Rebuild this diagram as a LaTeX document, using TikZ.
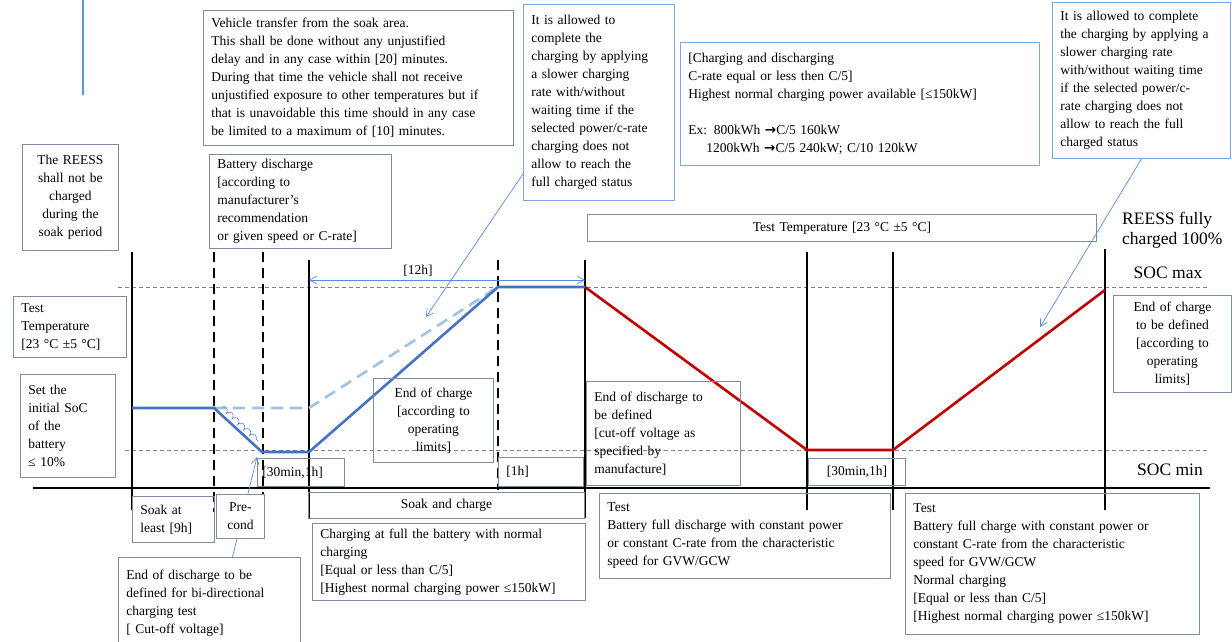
\documentclass[tikz,border=0pt]{standalone}
\usepackage{fontspec}
\setmainfont{Liberation Serif}
\newfontfamily\arrowfont{DejaVu Sans}
\usetikzlibrary{arrows.meta, positioning, decorations.pathmorphing}
\definecolor{boxgray}{HTML}{7F8C9D}
\definecolor{boxblue}{HTML}{7FA6DD}
\definecolor{socblue}{HTML}{4472C4}
\definecolor{soclight}{HTML}{9DC3E6}
\definecolor{socred}{HTML}{C00000}
\definecolor{noteblue}{HTML}{5B8BD9}
\definecolor{barblue}{HTML}{5B9BD5}
\newcommand{\thickarrow}{{\arrowfont\bfseries →}}

\begin{document}
\begin{tikzpicture}[x=1pt, y=-1pt, >={Straight Barb[length=7pt, width=8pt]}]
  \tikzstyle{gbox}=[draw=boxgray, line width=0.9pt, anchor=north west, inner xsep=8pt, inner ysep=3pt, align=left, font=\fontsize{13.5}{18}\selectfont]
  \tikzstyle{bbox}=[gbox, draw=boxblue]
  \tikzstyle{timeline}=[line width=2.6pt]
  \tikzstyle{vdash}=[line width=2.6pt, dash pattern=on 10pt off 6pt]
  \tikzstyle{soclevel}=[gray, line width=0.8pt, dash pattern=on 4pt off 3pt]
  \tikzstyle{note}=[->, noteblue, line width=0.7pt]
  \tikzstyle{big}=[font=\fontsize{17.5}{20}\selectfont, inner sep=0pt]
  \tikzstyle{profile}=[line width=2.6pt, line join=round]

  \useasboundingbox (0,0) rectangle (1232,642);

  % SOC levels and time axis
  \draw[soclevel] (118,287) -- (1210,287);
  \draw[soclevel] (125,450) -- (1210,450);
  \draw[line width=2.8pt] (33,488) -- (1210,488);
  \draw[barblue, line width=2.5pt] (83,0) -- (83,95);

  % Time marks
  \draw[timeline] (132,252) -- (132,510);
  \draw[vdash] (214,252) -- (214,512);
  \draw[vdash] (263,252) -- (263,497);
  \draw[timeline] (309,260) -- (309,518);
  \draw[vdash] (498,260) -- (498,490);
  \draw[timeline] (585,260) -- (585,518);
  \draw[timeline] (807,252) -- (807,510);
  \draw[timeline] (893,252) -- (893,510);
  \draw[timeline] (1105,249) -- (1105,510);

  % State of charge profile
  \coordinate (s0) at (132,408);
  \coordinate (s1) at (214,408);
  \coordinate (s2) at (262,452);
  \coordinate (s3) at (309,452);
  \coordinate (s4) at (498,287);
  \coordinate (s5) at (585,287);
  \coordinate (s6) at (807,450);
  \coordinate (s7) at (893,450);
  \coordinate (s8) at (1105,290);
  \coordinate (s9) at (309,408);
  \draw[profile, soclight, dash pattern=on 12pt off 7pt] (s1) -- (s9) -- (s4);
  \draw[profile, socblue] (s0) -- (s1) -- (s2) -- (s3) -- (s4) -- (s5);
  \draw[socblue, line width=0.5pt, decorate, decoration={coil, aspect=0.6, segment length=8pt, amplitude=2.5pt}] (222,407) -- (258,441);
  \draw[profile, socred] (s5) -- (s6) -- (s7) -- (s8);

  % Soak and charge duration
  \coordinate (h1) at (309,280);
  \coordinate (h2) at (585,280);
  \draw[note, <->] (h1) -- (h2);
  \node[font=\fontsize{13.5}{18}\selectfont] (twelve) at (418,271) {[12h]};

  % Upper notes
  \node[gbox, text width=80pt, minimum height=106pt, align=center] (reess) at (22,144) {The REESS\\shall not be\\charged\\during the\\soak period};
  \node[gbox, text width=294pt, minimum height=135pt] (transfer) at (203,10) {Vehicle transfer from the soak area.\\This shall be done without any unjustified\\delay and in any case within [20] minutes.\\During that time the vehicle shall not receive\\unjustified exposure to other temperatures but if\\that is unavoidable this time should in any case\\be limited to a maximum of [10] minutes.};
  \node[gbox, text width=166pt, minimum height=94pt] (discharge) at (209,154) {Battery discharge\\{[}according to\\manufacturer's\\recommendation\\or given speed or C-rate]};
  \node[bbox, text width=135pt, minimum height=196pt] (allowed1) at (523,4) {It is allowed to\\complete the\\charging by applying\\a slower charging\\rate with/without\\waiting time if the\\selected power/c-rate\\charging does not\\allow to reach the\\full charged status};
  \node[bbox, text width=343pt, minimum height=123pt] (crate) at (680,42) {{[}Charging and discharging\\C-rate equal or less then C/5]\\Highest normal charging power available [≤150kW]\\[18pt]Ex: 800kWh \thickarrow C/5 160kW\\\hspace*{18pt}1200kWh \thickarrow C/5 240kW; C/10 120kW};
  \node[bbox, text width=162pt, minimum height=156pt] (allowed2) at (1052,2) {It is allowed to complete\\the charging by applying a\\slower charging rate\\with/without waiting time\\if the selected power/c-\\rate charging does not\\allow to reach the full\\charged status};
  \node[gbox, text width=493pt, minimum height=27pt, align=center] (testtemp) at (587,214) {Test Temperature [23 °C ±5 °C]};

  % Notes along the profile
  \node[gbox, text width=97pt, minimum height=61pt] (temp) at (13,296) {Test\\Temperature\\{[}23 °C ±5 °C]};
  \node[gbox, text width=79pt, minimum height=103pt] (initsoc) at (20,374) {Set the\\initial SoC\\of the\\battery\\≤ 10\%};
  \node[gbox, inner xsep=5pt, text width=77pt, minimum height=28pt] (hold1) at (257,458) {[30min,1h]};
  \node[gbox, text width=104pt, minimum height=84pt, align=center] (endcharge) at (373,378) {End of charge\\{[}according to\\operating\\limits]};
  \node[gbox, text width=69pt, minimum height=29pt] (hold2) at (498,457) {[1h]};
  \node[gbox, text width=138pt, minimum height=104pt] (enddis) at (586,381) {End of discharge to\\be defined\\{[}cut-off voltage as\\specified by\\manufacture]};
  \node[gbox, text width=81pt, minimum height=27pt, align=center] (hold3) at (808,458) {[30min,1h]};
  \node[gbox, text width=102pt, minimum height=97pt, align=center] (endcharge2) at (1113,295) {End of charge\\to be defined\\{[}according to\\operating\\limits]};
  \node[big, anchor=north west, align=left] (full) at (1122,212) {REESS fully\\charged 100\%};
  \node[big] (socmax) at (1168,273) {SOC max};
  \node[big] (socmin) at (1170,470) {SOC min};

  % Phases below the axis
  \coordinate (tipA) at (426,317);
  \coordinate (tipB) at (257,457);
  \coordinate (tipC) at (1040,327);
  \node[gbox, text width=166pt, minimum height=92pt] (bidir) at (118,557) {End of discharge to be\\defined for bi-directional\\charging test\\{[} Cut-off voltage]};
  \draw[note] ([yshift=27pt]allowed1.south west) -- (tipA);
  \draw[note] ([xshift=23pt]bidir.north) -- (tipB);
  \draw[note] (allowed2.south) -- (tipC);
  \node[gbox, text width=66pt, minimum height=46pt] (soak) at (132,496) {Soak at\\least [9h]};
  \node[gbox, fill=white, inner xsep=5pt, text width=38pt, minimum height=44pt, align=center] (precond) at (216,494) {Pre-\\cond};
  \node[gbox, text width=260pt, minimum height=26pt, align=center] (soakcharge) at (308,492) {Soak and charge};
  \node[gbox, below=4pt of soakcharge.south west, anchor=north west, xshift=4pt, text width=257pt, minimum height=77pt] (chargefull) {Charging at full the battery with normal\\charging\\{[}Equal or less than C/5]\\{[}Highest normal charging power ≤150kW]};
  \node[gbox, text width=275pt, minimum height=85pt] (testdis) at (599,493) {Test\\Battery full discharge with constant power\\or constant C-rate from the characteristic\\speed for GVW/GCW};
  \node[gbox, text width=278pt, minimum height=141pt] (testcha) at (905,493) {Test\\Battery full charge with constant power or\\constant C-rate from the characteristic\\speed for GVW/GCW\\Normal charging\\{[}Equal or less than C/5]\\{[}Highest normal charging power ≤150kW]};
\end{tikzpicture}
\end{document}
